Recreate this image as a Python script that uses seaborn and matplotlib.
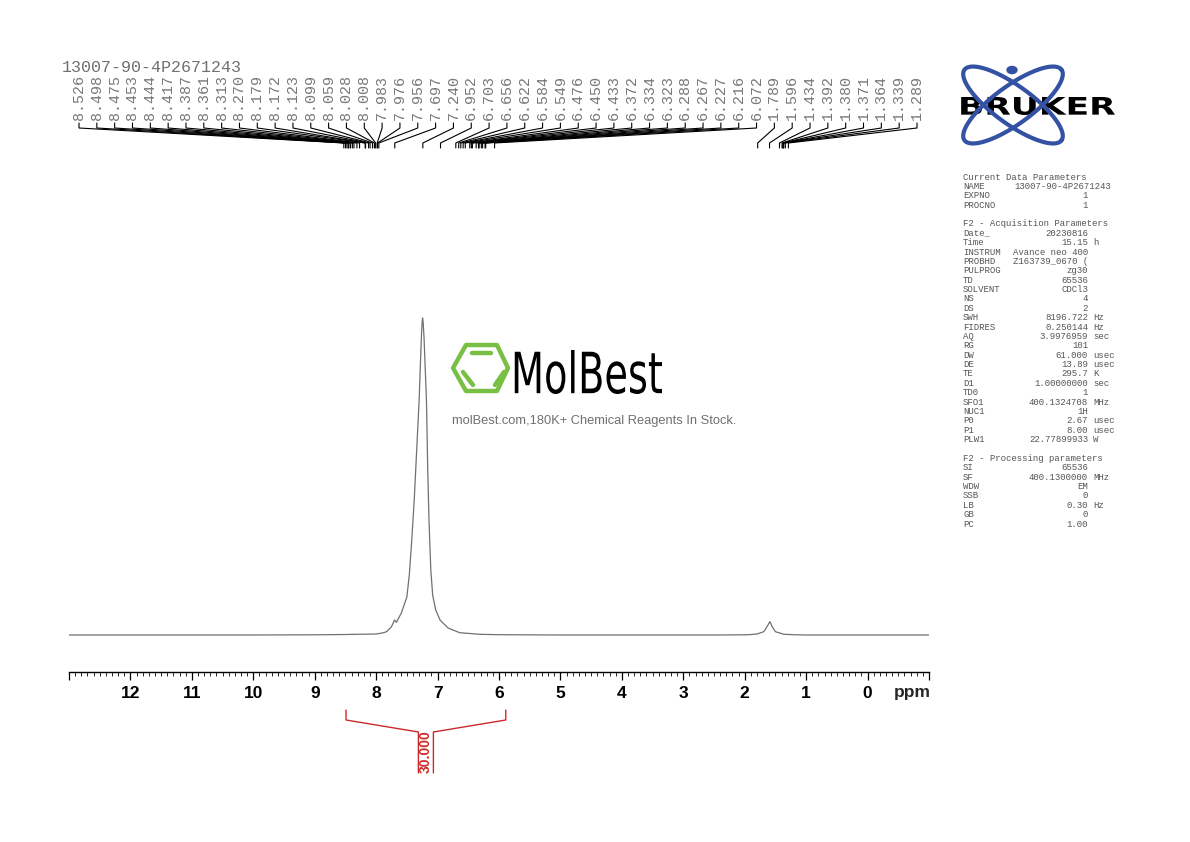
import numpy as np
import pandas as pd
import matplotlib
matplotlib.use("Agg")
import matplotlib.pyplot as plt
import seaborn as sns
from matplotlib.textpath import TextPath
from matplotlib.font_manager import FontProperties
from matplotlib.patches import PathPatch, Polygon, Circle
from matplotlib.path import Path
from matplotlib.lines import Line2D
from matplotlib.ticker import MultipleLocator, FixedLocator

# ---------------- data ----------------
sample_name = "13007-90-4P2671243"

spec_ppm = [13.0, 12.0, 11.0, 10.0, 9.0, 8.5, 8.0, 7.90, 7.83, 7.75, 7.70, 7.67,
            7.59, 7.50, 7.46, 7.42, 7.38, 7.34, 7.30, 7.28, 7.26, 7.25, 7.244,
            7.235, 7.22, 7.20, 7.18, 7.16, 7.14, 7.11, 7.08, 7.03, 6.96, 6.83,
            6.64, 6.31, 6.0, 5.0, 4.0, 3.0, 2.5, 2.0, 1.91, 1.80, 1.69, 1.64,
            1.59, 1.55, 1.50, 1.36, 1.17, 1.0, 0.0, -1.0]
spec_int = [0.0, 0.0, 0.0, 0.0, 0.2, 0.5, 1.0, 2.0, 3.3, 8.3, 15.0, 12.7,
            22.0, 38.0, 60.0, 95.0, 135.0, 185.0, 235.0, 270.0, 303.0, 314.0, 317.0,
            313.0, 297.0, 265.0, 232.0, 165.0, 115.0, 65.0, 40.0, 25.0, 15.0, 7.0,
            2.3, 0.7, 0.3, 0.0, 0.0, 0.0, 0.0, 0.2, 0.4, 1.0, 3.3, 8.0,
            13.3, 8.0, 3.3, 0.7, 0.2, 0.0, 0.0, 0.0]

peak_labels = [8.526, 8.498, 8.475, 8.453, 8.444, 8.417, 8.387, 8.361, 8.313,
               8.270, 8.179, 8.172, 8.123, 8.099, 8.059, 8.028, 8.008, 7.983,
               7.976, 7.956, 7.697, 7.240, 6.952, 6.703, 6.656, 6.622, 6.584,
               6.549, 6.476, 6.450, 6.433, 6.372, 6.334, 6.323, 6.288, 6.267,
               6.227, 6.216, 6.072, 1.789, 1.596, 1.434, 1.392, 1.380, 1.371,
               1.364, 1.339, 1.289]

integral_start = 8.49
integral_end = 5.89
integral_value = "30.000"

tick_values = list(range(0, 13))

param_rows = [
    ("Current Data Parameters", None, None),
    ("NAME", "13007-90-4P2671243", None),
    ("EXPNO", "1", None),
    ("PROCNO", "1", None),
    None,
    ("F2 - Acquisition Parameters", None, None),
    ("Date_", "20230816", None),
    ("Time", "15.15", "h"),
    ("INSTRUM", "Avance neo 400", None),
    ("PROBHD", "Z163739_0670 (", None),
    ("PULPROG", "zg30", None),
    ("TD", "65536", None),
    ("SOLVENT", "CDCl3", None),
    ("NS", "4", None),
    ("DS", "2", None),
    ("SWH", "8196.722", "Hz"),
    ("FIDRES", "0.250144", "Hz"),
    ("AQ", "3.9976959", "sec"),
    ("RG", "101", None),
    ("DW", "61.000", "usec"),
    ("DE", "13.89", "usec"),
    ("TE", "295.7", "K"),
    ("D1", "1.00000000", "sec"),
    ("TD0", "1", None),
    ("SFO1", "400.1324708", "MHz"),
    ("NUC1", "1H", None),
    ("P0", "2.67", "usec"),
    ("P1", "8.00", "usec"),
    ("PLW1", "22.77899933", "W"),
    None,
    ("F2 - Processing parameters", None, None),
    ("SI", "65536", None),
    ("SF", "400.1300000", "MHz"),
    ("WDW", "EM", None),
    ("SSB", "0", None),
    ("LB", "0.30", "Hz"),
    ("GB", "0", None),
    ("PC", "1.00", None),
]

# ---------------- figure ----------------
W, H = 1190, 842
sns.set_style("white")
plt.rcParams["font.family"] = ["Liberation Sans", "DejaVu Sans"]

fig = plt.figure(figsize=(W / 100, H / 100), dpi=100)
fig.patch.set_facecolor("white")


def fx(px):
    return px / W


def fy(py):
    return 1 - py / H


ax = fig.add_axes([fx(69), fy(672), fx(929) - fx(69), (672 - 300) / H])
df = pd.DataFrame({"ppm": spec_ppm, "intensity": spec_int})
sns.lineplot(data=df, x="ppm", y="intensity", ax=ax, color="#707070",
             linewidth=0.9, sort=False, estimator=None)
ax.set_xlim(13, -1)
ax.set_ylim(-37, 335)
for s in ["top", "left", "right"]:
    ax.spines[s].set_visible(False)
ax.spines["bottom"].set_color("black")
ax.spines["bottom"].set_linewidth(1.0)
ax.set_yticks([])
ax.set_xlabel("")
ax.set_ylabel("")
ax.set_facecolor("none")

major = list(range(-1, 14))
ax.xaxis.set_major_locator(FixedLocator(major))
ax.set_xticklabels([str(v) if v in tick_values else "" for v in major])
ax.xaxis.set_minor_locator(MultipleLocator(0.1))
ax.tick_params(axis="x", which="major", direction="out", length=6, width=0.9,
               pad=4, labelsize=12.5, colors="black", bottom=True)
ax.tick_params(axis="x", which="minor", direction="out", length=3, width=0.7,
               bottom=True)
for lab in ax.get_xticklabels():
    lab.set_fontweight("bold")

fig.text(fx(912), fy(693), "ppm", fontsize=12.5, fontweight="bold",
         ha="center", va="center")


def ppm_fig_x(p):
    disp = ax.transData.transform((p, 0))
    return fig.transFigure.inverted().transform(disp)[0]


# ---------------- peak labels ----------------
mono = ["Liberation Mono", "DejaVu Sans Mono"]
n = len(peak_labels)
x_first, x_last = 79, 917
for i, p in enumerate(peak_labels):
    lx = fx(x_first + i * (x_last - x_first) / (n - 1))
    px = ppm_fig_x(p)
    fig.text(lx, fy(120), f"{p:.3f}", rotation=90, ha="center", va="bottom",
             fontsize=10.8, family=mono, color="#777777")
    fig.add_artist(Line2D([lx, lx, px, px],
                          [fy(123), fy(128), fy(143), fy(148)],
                          transform=fig.transFigure, color="black", lw=0.8))

fig.text(fx(62), fy(68), sample_name, fontsize=12, family=mono,
         color="#707070", ha="left", va="center")

# ---------------- integral ----------------
red = "#cc2a2a"
xs = ppm_fig_x(integral_start)
xe = ppm_fig_x(integral_end)
xc = (xs + xe) / 2
half = 7.5 / W
fig.add_artist(Line2D([xs, xs, xc - half, xc - half],
                      [fy(710), fy(720), fy(732), fy(773)],
                      transform=fig.transFigure, color=red, lw=1.0))
fig.add_artist(Line2D([xe, xe, xc + half, xc + half],
                      [fy(710), fy(720), fy(732), fy(773)],
                      transform=fig.transFigure, color=red, lw=1.0))
fig.text(xc, fy(752), integral_value, rotation=90, ha="center", va="center",
         fontsize=10, fontweight="bold", color=red)

# ---------------- parameter panel ----------------
y0, step = 177, 9.38
pcol = "#555555"
for i, row in enumerate(param_rows):
    if row is None:
        continue
    key, val, unit = row
    y = fy(y0 + i * step)
    fig.text(fx(963), y, key, fontsize=6.5, family=mono, color=pcol,
             ha="left", va="center")
    if val is not None:
        xr = 1111 if key == "NAME" else 1088
        fig.text(fx(xr), y, val, fontsize=6.5, family=mono, color=pcol,
                 ha="right", va="center")
    if unit is not None:
        fig.text(fx(1093), y, unit, fontsize=6.5, family=mono, color=pcol,
                 ha="left", va="center")


# ---------------- logos ----------------
def text_patch(s, x0, x1, ytop, ybot, prop, **kw):
    tp = TextPath((0, 0), s, size=50, prop=prop)
    v = tp.vertices.copy()
    bx0, by0 = v.min(0)
    bx1, by1 = v.max(0)
    sx = (x1 - x0) / (bx1 - bx0)
    sy = (ybot - ytop) / (by1 - by0)
    px = x0 + (v[:, 0] - bx0) * sx
    py = ybot - (v[:, 1] - by0) * sy
    verts = np.column_stack([px / W, 1 - py / H])
    patch = PathPatch(Path(verts, tp.codes), transform=fig.transFigure, **kw)
    fig.add_artist(patch)


blue = "#3452a3"
cx, cy = 1013, 105
t = np.linspace(0, 2 * np.pi, 240)
for ang in (36, -36):
    a, b = 60, 19
    th = np.deg2rad(ang)
    ex = cx + a * np.cos(t) * np.cos(th) - b * np.sin(t) * np.sin(th)
    ey = cy - (a * np.cos(t) * np.sin(th) + b * np.sin(t) * np.cos(th))
    fig.add_artist(Line2D(ex / W, 1 - ey / H, transform=fig.transFigure,
                          color=blue, lw=3))
fig.add_artist(Circle((fx(1012), fy(70)), radius=5 / W,
                      transform=fig.transFigure, color=blue))
text_patch("BRUKER", 958, 1115, 97, 115,
           FontProperties(family="DejaVu Sans", weight="bold"),
           facecolor="black", edgecolor="white", lw=2.5)
text_patch("BRUKER", 958, 1115, 97, 115,
           FontProperties(family="DejaVu Sans", weight="bold"),
           facecolor="black", edgecolor="none")

green = "#79bf44"
hexv = [(453, 368), (466, 345), (497, 345), (508, 368), (497, 391), (466, 391)]
fig.add_artist(Polygon([(fx(x), fy(y)) for x, y in hexv], closed=True,
                       fill=False, edgecolor=green, lw=3.2, joinstyle="round",
                       transform=fig.transFigure))
for (xa, ya), (xb, yb) in [((472, 353), (491, 353)), ((463, 372), (473, 385)),
                           ((504, 372), (495, 385))]:
    fig.add_artist(Line2D([fx(xa), fx(xb)], [fy(ya), fy(yb)],
                          transform=fig.transFigure, color=green, lw=3.2,
                          solid_capstyle="round"))
text_patch("MolBest", 511, 662, 350, 394,
           FontProperties(family="DejaVu Sans", weight="normal"),
           facecolor="black", edgecolor="none")
fig.text(fx(594), fy(421), "molBest.com,180K+ Chemical Reagents In Stock.",
         fontsize=9.3, color="#707070", ha="center", va="center")

fig.savefig("out.png", dpi=100, facecolor="white")
